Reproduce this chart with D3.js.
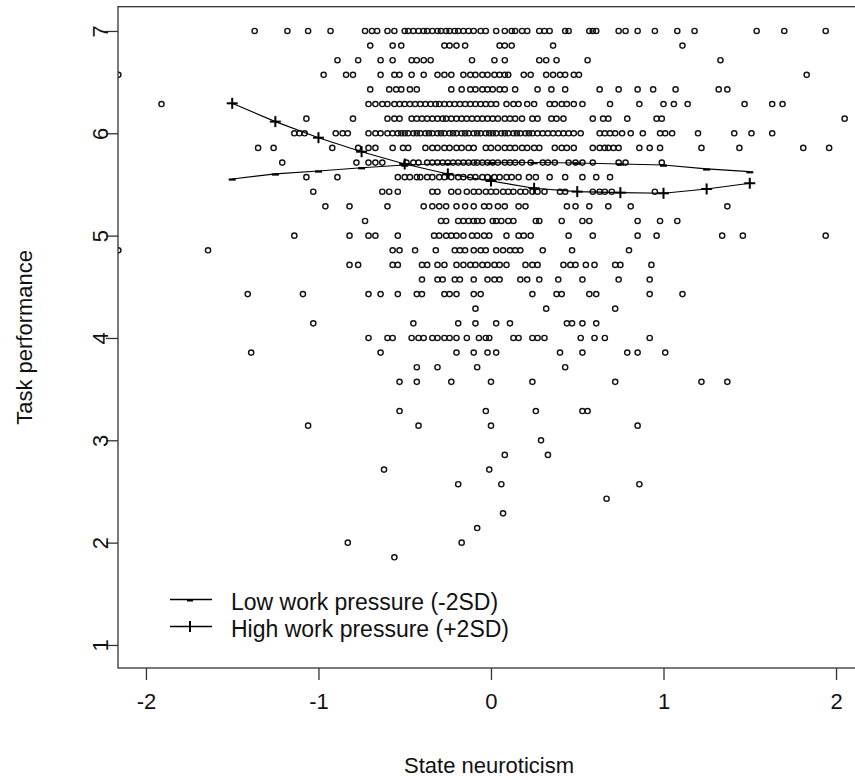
<!DOCTYPE html>
<html>
<head>
<meta charset="utf-8">
<script src="https://cdnjs.cloudflare.com/ajax/libs/d3/7.8.5/d3.min.js"></script>
<style>
  html, body { margin: 0; padding: 0; background: #fff; }
  text { font-family: "Liberation Sans", Arial, sans-serif; fill: #111; }
</style>
</head>
<body>
<svg id="chart" width="855" height="780"></svg>
<script>
// ---------- data ----------
const xTicks = [-2, -1, 0, 1, 2];
const yTicks = [1, 2, 3, 4, 5, 6, 7];
const xTitle = "State neuroticism";
const yTitle = "Task performance";

// task performance levels (k/7) and the state-neuroticism values observed at each level
const levels = [7.000, 6.857, 6.714, 6.571, 6.429, 6.286, 6.143, 6.000, 5.857, 5.714, 5.571, 5.429,
  5.286, 5.143, 5.000, 4.857, 4.714, 4.571, 4.429, 4.286, 4.143, 4.000, 3.857, 3.714, 3.571, 3.286,
  3.143, 3.000, 2.857, 2.714, 2.571, 2.429, 2.286, 2.143, 2.000, 1.857];
const neuroticismAtLevel = [
  [-1.37, -1.18, -1.06, -0.93, -0.73, -0.69, -0.66, -0.60, -0.56, -0.50, -0.48, -0.45, -0.42, -0.39, -0.37, -0.34, -0.31, -0.29, -0.26, -0.24, -0.21, -0.19, -0.16, -0.13, -0.10, -0.06, -0.03, 0.03, 0.08, 0.12, 0.14, 0.18, 0.21, 0.28, 0.31, 0.34, 0.43, 0.45, 0.57, 0.59, 0.61, 0.74, 0.78, 0.85, 0.95, 1.08, 1.18, 1.54, 1.70, 1.94],
  [-0.70, -0.57, -0.52, -0.27, -0.24, -0.20, -0.15, 0.05, 0.08, 0.12, 0.36, 1.11],
  [-0.89, -0.77, -0.64, -0.57, -0.46, -0.43, -0.39, -0.35, -0.11, 0.02, 0.08, 0.28, 0.32, 0.38, 0.56, 1.33],
  [-2.16, -0.97, -0.84, -0.80, -0.64, -0.56, -0.53, -0.46, -0.39, -0.31, -0.27, -0.23, -0.16, -0.12, -0.09, -0.05, -0.02, 0.02, 0.05, 0.08, 0.10, 0.19, 0.23, 0.32, 0.36, 0.40, 0.43, 0.48, 0.51, 1.83],
  [-0.70, -0.59, -0.55, -0.52, -0.47, -0.43, -0.23, -0.17, -0.12, -0.09, -0.05, -0.02, 0.01, 0.05, 0.08, 0.14, 0.27, 0.35, 0.43, 0.63, 0.74, 0.85, 0.94, 1.07, 1.32, 1.37],
  [-1.91, -0.71, -0.67, -0.63, -0.60, -0.56, -0.53, -0.50, -0.47, -0.44, -0.41, -0.38, -0.35, -0.32, -0.30, -0.27, -0.24, -0.21, -0.18, -0.15, -0.12, -0.09, -0.06, -0.03, 0.00, 0.03, 0.09, 0.13, 0.16, 0.21, 0.25, 0.34, 0.37, 0.41, 0.44, 0.48, 0.53, 0.69, 0.86, 1.00, 1.06, 1.14, 1.47, 1.63, 1.69],
  [-1.07, -0.80, -0.60, -0.56, -0.53, -0.46, -0.43, -0.40, -0.37, -0.34, -0.31, -0.28, -0.26, -0.23, -0.20, -0.17, -0.14, -0.11, -0.08, -0.05, -0.02, 0.01, 0.04, 0.08, 0.11, 0.14, 0.18, 0.24, 0.27, 0.35, 0.38, 0.42, 0.59, 0.65, 0.68, 0.79, 0.96, 0.99, 2.05],
  [-1.14, -1.11, -1.08, -0.90, -0.86, -0.83, -0.71, -0.67, -0.64, -0.60, -0.57, -0.54, -0.52, -0.50, -0.48, -0.45, -0.43, -0.41, -0.38, -0.36, -0.34, -0.31, -0.29, -0.27, -0.24, -0.22, -0.20, -0.17, -0.15, -0.13, -0.10, -0.08, -0.06, -0.03, -0.01, 0.01, 0.03, 0.06, 0.08, 0.10, 0.13, 0.15, 0.17, 0.20, 0.22, 0.24, 0.27, 0.30, 0.33, 0.36, 0.39, 0.42, 0.45, 0.48, 0.52, 0.63, 0.66, 0.69, 0.72, 0.76, 0.81, 0.88, 0.98, 1.01, 1.05, 1.20, 1.41, 1.51, 1.63],
  [-1.35, -1.26, -0.92, -0.77, -0.71, -0.67, -0.57, -0.51, -0.48, -0.38, -0.34, -0.31, -0.27, -0.24, -0.20, -0.17, -0.13, -0.10, -0.03, 0.00, 0.04, 0.08, 0.11, 0.14, 0.18, 0.21, 0.25, 0.28, 0.37, 0.41, 0.44, 0.48, 0.59, 0.63, 0.66, 0.68, 0.71, 0.74, 0.86, 0.92, 0.98, 1.22, 1.44, 1.81, 1.96],
  [-1.21, -0.78, -0.71, -0.67, -0.63, -0.49, -0.45, -0.42, -0.37, -0.34, -0.31, -0.28, -0.25, -0.22, -0.19, -0.16, -0.13, -0.10, -0.08, -0.05, -0.02, 0.01, 0.04, 0.08, 0.11, 0.14, 0.18, 0.23, 0.30, 0.33, 0.37, 0.45, 0.49, 0.53, 0.59, 0.74, 0.78, 0.99],
  [-1.07, -0.89, -0.54, -0.50, -0.47, -0.43, -0.41, -0.37, -0.34, -0.30, -0.27, -0.23, -0.19, -0.16, -0.12, -0.09, -0.05, -0.02, 0.02, 0.05, 0.09, 0.12, 0.16, 0.22, 0.26, 0.34, 0.43, 0.53, 0.61, 0.69],
  [-1.03, -0.63, -0.59, -0.54, -0.34, -0.31, -0.23, -0.19, -0.14, -0.10, -0.07, -0.03, 0.00, 0.03, 0.07, 0.10, 0.13, 0.17, 0.20, 0.24, 0.27, 0.31, 0.40, 0.43, 0.59, 0.63, 0.66, 0.70, 0.95],
  [-0.96, -0.82, -0.60, -0.39, -0.34, -0.30, -0.26, -0.20, -0.15, -0.10, -0.04, -0.01, 0.04, 0.08, 0.16, 0.20, 0.44, 0.49, 0.57, 0.68, 0.81, 1.37],
  [-0.73, -0.29, -0.26, -0.19, -0.16, -0.13, -0.10, -0.08, -0.05, 0.01, 0.03, 0.06, 0.10, 0.13, 0.26, 0.28, 0.41, 0.53, 0.57, 0.85, 0.98, 1.08],
  [-1.14, -0.82, -0.71, -0.67, -0.54, -0.33, -0.30, -0.26, -0.23, -0.20, -0.16, -0.11, -0.08, -0.04, -0.01, 0.09, 0.16, 0.19, 0.23, 0.45, 0.59, 0.85, 0.96, 1.34, 1.46, 1.94],
  [-2.16, -1.64, -0.57, -0.53, -0.44, -0.32, -0.21, -0.18, -0.15, -0.10, -0.06, -0.03, 0.03, 0.07, 0.11, 0.14, 0.17, 0.30, 0.47, 0.80],
  [-0.82, -0.77, -0.57, -0.54, -0.40, -0.37, -0.31, -0.27, -0.20, -0.16, -0.12, -0.09, -0.05, -0.02, 0.02, 0.05, 0.09, 0.20, 0.24, 0.27, 0.42, 0.46, 0.49, 0.55, 0.60, 0.72, 0.75, 0.93],
  [-0.40, -0.31, -0.28, -0.21, -0.18, -0.10, -0.02, 0.02, 0.05, 0.17, 0.21, 0.28, 0.39, 0.53, 0.74, 0.92],
  [-1.41, -1.09, -0.71, -0.64, -0.54, -0.43, -0.40, -0.27, -0.24, -0.20, -0.10, -0.06, 0.24, 0.38, 0.41, 0.57, 0.61, 0.92, 1.11],
  [-0.09, 0.32, 0.72],
  [-1.03, -0.45, -0.19, -0.09, 0.03, 0.11, 0.44, 0.47, 0.53, 0.61],
  [-0.71, -0.60, -0.57, -0.46, -0.42, -0.39, -0.34, -0.31, -0.27, -0.24, -0.20, -0.14, -0.07, -0.03, -0.01, 0.13, 0.16, 0.24, 0.27, 0.31, 0.52, 0.60, 0.66, 0.92],
  [-1.39, -0.64, -0.20, -0.10, -0.02, 0.03, 0.40, 0.53, 0.79, 0.85, 1.01],
  [-0.43, -0.31, -0.08, 0.43],
  [-0.53, -0.43, -0.23, 0.00, 0.24, 0.72, 1.22, 1.37],
  [-0.53, -0.03, 0.26, 0.53, 0.56],
  [-1.06, -0.42, 0.00, 0.85],
  [0.29],
  [0.08, 0.33],
  [-0.62, -0.01],
  [-0.19, 0.06, 0.86],
  [0.67],
  [0.07],
  [-0.08],
  [-0.83, -0.17],
  [-0.56]
];

// simple slopes
const predX = [-1.5, -1.25, -1, -0.75, -0.5, -0.25, 0, 0.25, 0.5, 0.75, 1, 1.25, 1.5];
const lowPressure  = [5.554, 5.603, 5.632, 5.664, 5.690, 5.705, 5.712, 5.714, 5.710, 5.700, 5.690, 5.652, 5.625];
const highPressure = [6.293, 6.114, 5.957, 5.820, 5.700, 5.603, 5.534, 5.463, 5.430, 5.420, 5.414, 5.456, 5.512];
const legendLabels = ["Low work pressure (-2SD)", "High work pressure (+2SD)"];

// ---------- layout ----------
const svg = d3.select("#chart");
const plot = { left: 118, right: 860, top: 6.7, bottom: 668 };
const x = d3.scaleLinear().domain([-2.162, 2.139]).range([plot.left, plot.right]);
const y = d3.scaleLinear().domain([0.775, 7.237]).range([plot.bottom, plot.top]);
const FONT = 22;
const ink = "#1a1a1a";

svg.append("rect").attr("width", 855).attr("height", 780).attr("fill", "#fff");

svg.append("defs").append("clipPath").attr("id", "clip")
  .append("rect").attr("x", plot.left).attr("y", plot.top)
  .attr("width", plot.right - plot.left).attr("height", plot.bottom - plot.top);

// points
const points = [];
levels.forEach((lv, i) => neuroticismAtLevel[i].forEach(v => points.push({ x: v, y: lv })));
svg.append("g").attr("clip-path", "url(#clip)")
  .selectAll("circle").data(points).join("circle")
  .attr("cx", d => x(d.x)).attr("cy", d => y(d.y)).attr("r", 2.6)
  .attr("fill", "none").attr("stroke", "#151515").attr("stroke-width", 1.45);

// lines
const lineGen = d3.line().x(d => x(d[0])).y(d => y(d[1]));
const lowData = predX.map((v, i) => [v, lowPressure[i]]);
const highData = predX.map((v, i) => [v, highPressure[i]]);
[lowData, highData].forEach(ds => {
  svg.append("path").datum(ds).attr("d", lineGen)
    .attr("fill", "none").attr("stroke", "#000").attr("stroke-width", 1.1);
});
// "-" markers
svg.append("g").selectAll("line").data(lowData).join("line")
  .attr("x1", d => x(d[0]) - 3.5).attr("x2", d => x(d[0]) + 3.5)
  .attr("y1", d => y(d[1]) + 0.6).attr("y2", d => y(d[1]) + 0.6)
  .attr("stroke", "#000").attr("stroke-width", 2.2);
// "+" markers
const plus = svg.append("g").selectAll("g").data(highData).join("g")
  .attr("transform", d => `translate(${x(d[0])},${y(d[1])})`);
plus.append("line").attr("x1", -5.5).attr("x2", 5.5).attr("y1", 0).attr("y2", 0)
  .attr("stroke", "#000").attr("stroke-width", 2);
plus.append("line").attr("x1", 0).attr("x2", 0).attr("y1", -5.5).attr("y2", 5.5)
  .attr("stroke", "#000").attr("stroke-width", 2);

// box
svg.append("rect").attr("x", plot.left).attr("y", plot.top)
  .attr("width", plot.right - plot.left).attr("height", plot.bottom - plot.top)
  .attr("fill", "none").attr("stroke", "#333").attr("stroke-width", 1.3);

// x axis
const xAxis = svg.append("g").attr("transform", `translate(0,${plot.bottom})`)
  .call(d3.axisBottom(x).tickValues(xTicks).tickFormat(d => String(d)).tickSize(12).tickPadding(13));
xAxis.select(".domain").remove();
xAxis.selectAll("line").attr("stroke", "#333").attr("stroke-width", 1.3);
xAxis.selectAll("text").attr("font-size", FONT).attr("fill", ink)
  .style("font-family", "'Liberation Sans', Arial, sans-serif");

// y axis
const yAxis = svg.append("g").attr("transform", `translate(${plot.left},0)`)
  .call(d3.axisLeft(y).tickValues(yTicks).tickFormat(d => String(d)).tickSize(12));
yAxis.select(".domain").remove();
yAxis.selectAll("line").attr("stroke", "#333").attr("stroke-width", 1.3);
yAxis.selectAll("text").attr("x", 0).attr("dy", 0).attr("text-anchor", "middle")
  .attr("transform", "translate(-10,0) rotate(-90)")
  .attr("font-size", FONT).attr("fill", ink)
  .style("font-family", "'Liberation Sans', Arial, sans-serif");

// titles
svg.append("text").attr("x", 489).attr("y", 773).attr("text-anchor", "middle")
  .attr("font-size", FONT).text(xTitle);
svg.append("text").attr("transform", `translate(32,${(plot.top + plot.bottom) / 2}) rotate(-90)`)
  .attr("text-anchor", "middle").attr("font-size", FONT).text(yTitle);

// legend
const legendY = [599.5, 626.5];
const leg = svg.append("g").selectAll("g").data(legendLabels).join("g")
  .attr("transform", (d, i) => `translate(170,${legendY[i]})`);
leg.append("line").attr("x1", 0).attr("x2", 42).attr("y1", 0).attr("y2", 0)
  .attr("stroke", "#000").attr("stroke-width", 1.6);
leg.filter((d, i) => i === 0).append("line")
  .attr("x1", 17).attr("x2", 23).attr("y1", 1).attr("y2", 1)
  .attr("stroke", "#000").attr("stroke-width", 2);
leg.filter((d, i) => i === 1).append("line")
  .attr("x1", 20).attr("x2", 20).attr("y1", -5.5).attr("y2", 5.5)
  .attr("stroke", "#000").attr("stroke-width", 2);
leg.append("text").attr("x", 61).attr("y", 10.5).attr("font-size", 23).text(d => d);
</script>
</body>
</html>
